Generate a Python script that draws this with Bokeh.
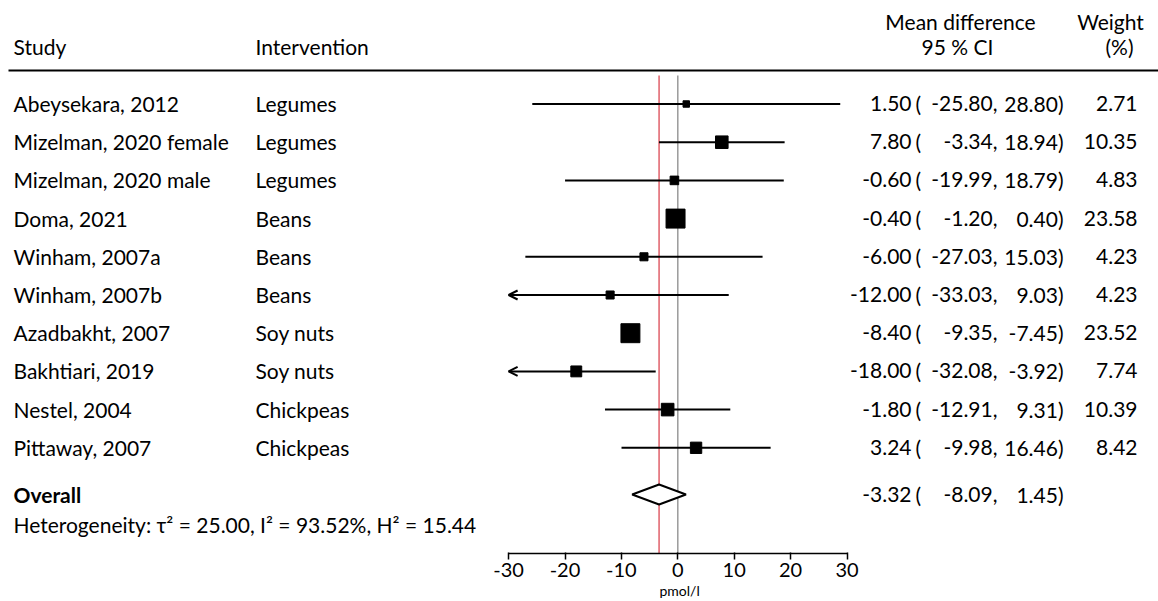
import numpy as np
from bokeh.plotting import figure
from bokeh.models import (Range1d, ColumnDataSource, LinearAxis, FixedTicker,
                          Arrow, OpenHead, Title)
from bokeh.core.properties import value
from bokeh.embed import file_html
from bokeh.resources import INLINE

# ---------------- data ----------------
studies = ["Abeysekara, 2012", "Mizelman, 2020 female", "Mizelman, 2020 male",
           "Doma, 2021", "Winham, 2007a", "Winham, 2007b", "Azadbakht, 2007",
           "Bakhtiari, 2019", "Nestel, 2004", "Pittaway, 2007"]
interventions = ["Legumes", "Legumes", "Legumes", "Beans", "Beans", "Beans",
                 "Soy nuts", "Soy nuts", "Chickpeas", "Chickpeas"]
mean_diff = [1.50, 7.80, -0.60, -0.40, -6.00, -12.00, -8.40, -18.00, -1.80, 3.24]
ci_low = [-25.80, -3.34, -19.99, -1.20, -27.03, -33.03, -9.35, -32.08, -12.91, -9.98]
ci_high = [28.80, 18.94, 18.79, 0.40, 15.03, 9.03, -7.45, -3.92, 9.31, 16.46]
weights = [2.71, 10.35, 4.83, 23.58, 4.23, 4.23, 23.52, 7.74, 10.39, 8.42]
overall_est = -3.32
overall_low = -8.09
overall_high = 1.45
heterogeneity = "Heterogeneity: τ² = 25.00, I² = 93.52%, H² = 15.44"
x_ticks = [-30, -20, -10, 0, 10, 20, 30]
x_label = "pmol/l"

# ---------------- layout ----------------
W, H = 1158, 601
FRAME_BOTTOM = 553          # canvas y of frame bottom (axis line)
SCALE = 5.64                # px per unit
X0 = -677.3 / SCALE
X1 = X0 + W / SCALE
FONT = value("Lato")
FS = "21px"
TXT_DY = -8                 # empirical baseline correction


def px(cx):
    return X0 + cx / SCALE


p = figure(width=W, height=H, x_range=Range1d(X0, X1),
           y_range=Range1d(FRAME_BOTTOM, 0),
           x_axis_type=None, y_axis_type=None, toolbar_location=None,
           output_backend="svg", min_border_left=0, min_border_right=0,
           min_border_top=0, min_border_bottom=H - FRAME_BOTTOM)
p.grid.visible = False
p.outline_line_color = None

n = len(studies)
row_y = [103.5 + 38.2 * i for i in range(n)]
overall_y = 494.0
het_y = 532.0
base = [y + 7.5 + TXT_DY for y in row_y]

lo_c = np.clip(ci_low, -30, 30)
hi_c = np.clip(ci_high, -30, 30)
sizes = [3.91 * np.sqrt(w) for w in weights]

# reference lines
p.segment(x0=[overall_est, 0], y0=[75, 75], x1=[overall_est, 0],
          y1=[FRAME_BOTTOM, FRAME_BOTTOM], line_color=["#e0606a", "#9a9a9a"],
          line_width=1.5)

# header rule
p.segment(x0=[px(8)], y0=[70], x1=[X1], y1=[70], line_color="black", line_width=2)

# CI lines
normal = [i for i in range(n) if ci_low[i] >= -30 and ci_high[i] <= 30]
clipped = [i for i in range(n) if i not in normal]
p.segment(x0=[lo_c[i] for i in normal], y0=[row_y[i] for i in normal],
          x1=[hi_c[i] for i in normal], y1=[row_y[i] for i in normal],
          line_color="black", line_width=2)
arrow_src = ColumnDataSource(dict(xs=[hi_c[i] for i in clipped],
                                  ys=[row_y[i] for i in clipped],
                                  xe=[lo_c[i] for i in clipped],
                                  ye=[row_y[i] for i in clipped]))
p.add_layout(Arrow(end=OpenHead(size=9, line_width=2, line_color="black"),
                   x_start="xs", y_start="ys", x_end="xe", y_end="ye",
                   line_width=2, line_color="black", source=arrow_src))

# squares
p.scatter(x=mean_diff, y=row_y, size=sizes, marker="square",
          fill_color="black", line_color="black")

# diamond
p.patch(x=[overall_low, overall_est, overall_high, overall_est],
        y=[overall_y, overall_y - 10, overall_y, overall_y + 10],
        fill_color="white", line_color="black", line_width=2)


def txt(xs, ys, texts, align="left", style="normal", size=FS):
    p.text(x=xs, y=ys, text=texts, text_align=align, text_baseline="alphabetic",
           text_font=FONT, text_font_size=size, text_font_style=style,
           text_color="black")


# headers
h1 = 29 + TXT_DY
h2 = 54 + TXT_DY
txt([px(960)], [h1], ["Mean difference"], "center")
txt([px(1110)], [h1], ["Weight"], "center")
txt([px(13)], [h2], ["Study"])
txt([px(255)], [h2], ["Intervention"])
txt([px(957)], [h2], ["95 % CI"], "center")
txt([px(1119)], [h2], ["(%)"], "center")

# rows
txt([px(13)] * n, base, studies)
txt([px(255)] * n, base, interventions)
txt([px(911)] * n, base, [f"{v:.2f}" for v in mean_diff], "right")
txt([px(915)] * n, base, ["("] * n)
txt([px(997)] * n, base, [f"{v:.2f}," for v in ci_low], "right")
txt([px(1063)] * n, base, [f"{v:.2f})" for v in ci_high], "right")
txt([px(1137)] * n, base, [f"{v:.2f}" for v in weights], "right")

ob = overall_y + 7.5 + TXT_DY
txt([px(13)], [ob], ["Overall"], style="bold")
txt([px(911)], [ob], [f"{overall_est:.2f}"], "right")
txt([px(915)], [ob], ["("])
txt([px(997)], [ob], [f"{overall_low:.2f},"], "right")
txt([px(1063)], [ob], [f"{overall_high:.2f})"], "right")
txt([px(13)], [het_y + TXT_DY], [heterogeneity])

# axis
ax = LinearAxis(ticker=FixedTicker(ticks=x_ticks), bounds=(-30, 30))
ax.major_label_overrides = {t: str(t) for t in x_ticks}
ax.major_tick_out = 6
ax.major_tick_in = 1
ax.minor_tick_out = 0
ax.minor_tick_in = 0
ax.axis_line_width = 1.5
ax.major_tick_line_width = 1.5
ax.major_label_standoff = 3
ax.major_label_text_font = "Lato"
ax.major_label_text_font_size = "20px"
ax.major_label_text_color = "black"
p.add_layout(ax, "below")

# unit label under the axis, centred on 0
unit = Title(text=x_label, align="left", offset=677 - 18, standoff=0,
             text_font="Lato", text_font_size="14px",
             text_font_style="normal", text_color="black")
p.add_layout(unit, "below")

open("out.html", "w").write(file_html(p, INLINE))
